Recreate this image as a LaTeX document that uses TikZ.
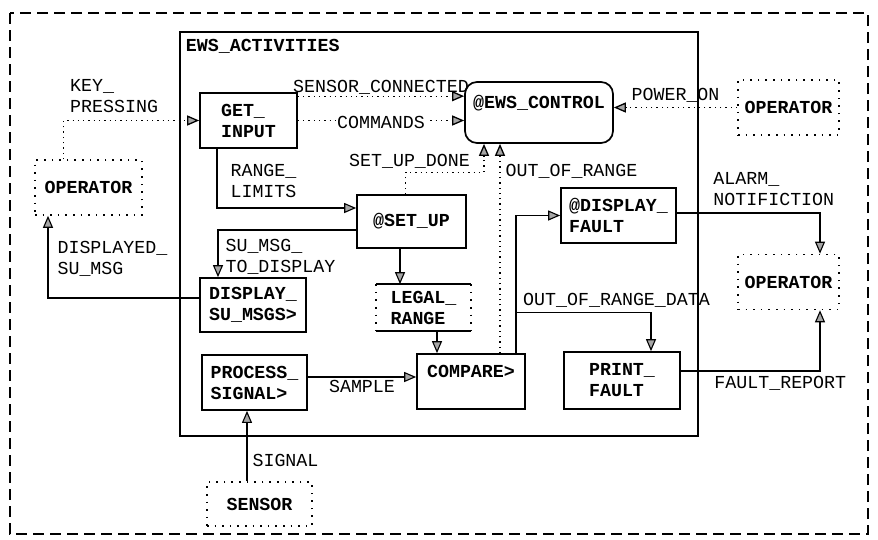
\documentclass[tikz,border=0pt]{standalone}
\usepackage{fontspec}
\setmonofont{Liberation Mono}
\usetikzlibrary{arrows.meta,calc}

\begin{document}
\begin{tikzpicture}[x=1pt, y=-1pt, >={Triangle[length=12pt,width=10pt,fill=gray!70]},
		font=\ttfamily\fontsize{18.3}{21}\selectfont,
		proc/.style={draw, line width=1.7pt, align=left, inner sep=0pt, font=\ttfamily\bfseries\fontsize{18.3}{21}\selectfont},
		term/.style={proc, line width=1.6pt, dash pattern=on 1.6pt off 6pt},
		flow/.style={line width=1.1pt},
		flowd/.style={line width=1.3pt, dash pattern=on 1.3pt off 4pt},
		lbl/.style={inner sep=1pt, align=left}]
		\useasboundingbox (0,0) rectangle (878,539);
		% context and process frames
		\draw[line width=1.2pt, dash pattern=on 11pt off 6pt] (10,13) rectangle (868,534);
		\draw[line width=1.8pt] (180,32) rectangle (698,436);
		\node[proc, draw=none, anchor=north west] (activities) at (185,38) {EWS\_ACTIVITIES};
		% processes
		\node[proc, minimum width=97pt, minimum height=55pt] (getinput) at (248.5,120.5) {GET\_\\INPUT};
		\node[proc, rounded corners=12pt, minimum width=148pt, minimum height=61pt] (ewscontrol) at (539,112.5) {@EWS\_CONTROL\\~};
		\node[proc, minimum width=109pt, minimum height=53pt] (setup) at (411.5,221.5) {@SET\_UP};
		\node[proc, minimum width=115pt, minimum height=55pt] (displayfault) at (618.5,215.5) {@DISPLAY\_\\FAULT};
		\node[proc, minimum width=106pt, minimum height=54pt] (displaymsgs) at (253,305) {DISPLAY\_\\SU\_MSGS>};
		\node[proc, minimum width=105pt, minimum height=55pt] (processsignal) at (254.5,382.5) {PROCESS\_\\SIGNAL>};
		\node[proc, minimum width=108pt, minimum height=55pt] (compare) at (471,381.5) {COMPARE>\\~};
		\node[proc, minimum width=116pt, minimum height=57pt] (printfault) at (622,380.5) {PRINT\_\\FAULT};
		% store
		\node[proc, draw=none, minimum width=93pt, minimum height=45pt] (legalrange) at (423.5,307.5) {LEGAL\_\\RANGE};
		\draw[line width=1.6pt] (legalrange.north west) -- (legalrange.north east)
			(legalrange.south west) -- (legalrange.south east);
		\draw[line width=1.6pt, dash pattern=on 1.6pt off 6pt] (legalrange.north west) -- (legalrange.south west)
			(legalrange.north east) -- (legalrange.south east);
		% terminators
		\node[term, minimum width=107pt, minimum height=55pt] (opkey) at (88.5,187.5) {OPERATOR};
		\node[term, minimum width=101pt, minimum height=55pt] (oppower) at (788.5,107.5) {OPERATOR};
		\node[term, minimum width=101pt, minimum height=55pt] (opalarm) at (788.5,282) {OPERATOR};
		\node[term, minimum width=105pt, minimum height=44pt] (sensor) at (259.5,504) {SENSOR};
		% control flows
		\draw[flowd,->] ([xshift=-25pt]opkey.north) |- (getinput.west)
			node[lbl, pos=0.5, anchor=south west, xshift=5pt, yshift=6pt] {KEY\_\\PRESSING};
		\draw[flowd,->] ([yshift=-4pt]getinput.north east) -- ([yshift=-4pt]getinput.north east -| ewscontrol.west)
			node[lbl, midway, above] {SENSOR\_CONNECTED};
		\draw[flowd,->] (getinput.east) -- (getinput.east -| ewscontrol.west)
			node[lbl, midway, fill=white, yshift=-2pt] {COMMANDS};
		\draw[flowd,->] (oppower.west) -- (oppower.west -| ewscontrol.east)
			node[lbl, midway, above, yshift=3pt] {POWER\_ON};
		\draw[flowd,->] ([xshift=-6pt]setup.north) -- ++(0,-22) node[lbl, above, xshift=4pt, yshift=2pt] {SET\_UP\_DONE}
			-| ([xshift=-55pt]ewscontrol.south);
		\draw[flowd,->] ([xshift=29pt]compare.north) -- ([xshift=29pt]compare.north |- ewscontrol.south)
			node[lbl, pos=0.867, right, xshift=4pt] {OUT\_OF\_RANGE};
		% data flows
		\draw[flow,->] ([xshift=-31.5pt]getinput.south) |- ([yshift=13.5pt]setup.west)
			node[lbl, pos=0.27, anchor=west, xshift=12pt] {RANGE\_\\LIMITS};
		\draw[flow,->] ([yshift=-8.5pt]setup.west) -| ([xshift=-35pt]displaymsgs.north)
			node[lbl, pos=0.78, anchor=west, xshift=6pt] {SU\_MSG\_\\TO\_DISPLAY};
		\draw[flow,->] ([yshift=7pt]displaymsgs.west) -| ([xshift=-40.5pt]opkey.south)
			node[lbl, pos=0.74, anchor=west, xshift=8pt] {DISPLAYED\_\\SU\_MSG};
		\draw[flow,->] ([xshift=-11.5pt]setup.south) -- ([xshift=-11.5pt]setup.south |- legalrange.north);
		\draw[flow,->] ([xshift=13.5pt]legalrange.south) -- ([xshift=13.5pt]legalrange.south |- compare.north);
		\draw[flow,->] ([yshift=5.5pt]processsignal.east) -- ([yshift=5.5pt]processsignal.east -| compare.west)
			node[lbl, midway, below, yshift=-2pt] {SAMPLE};
		\draw[flow,->] ([xshift=-12.5pt]sensor.north) -- ([xshift=-12.5pt]sensor.north |- processsignal.south)
			node[lbl, pos=0.3, right, xshift=4pt] {SIGNAL};
		\draw[flow,->] ([xshift=45pt]compare.north) |- (displayfault.west);
		\path ([xshift=45pt]compare.north) ++(0,-41) coordinate (split);
		\draw[flow,->] (split) -| ([xshift=29pt]printfault.north);
		\node[lbl, anchor=south west, xshift=6pt, yshift=3pt] (ordlabel) at (split) {OUT\_OF\_RANGE\_DATA};
		\draw[flow,->] ([yshift=2.5pt]displayfault.east) -| ([xshift=31.5pt]opalarm.north)
			node[lbl, pos=0, anchor=south west, xshift=35pt, yshift=6pt] {ALARM\_\\NOTIFICTION};
		\draw[flow,->] ([yshift=9.5pt]printfault.east) -| ([xshift=31.5pt]opalarm.south)
			node[lbl, pos=0, anchor=north west, xshift=32pt, yshift=-4pt] {FAULT\_REPORT};
	\end{tikzpicture}
\end{document}
